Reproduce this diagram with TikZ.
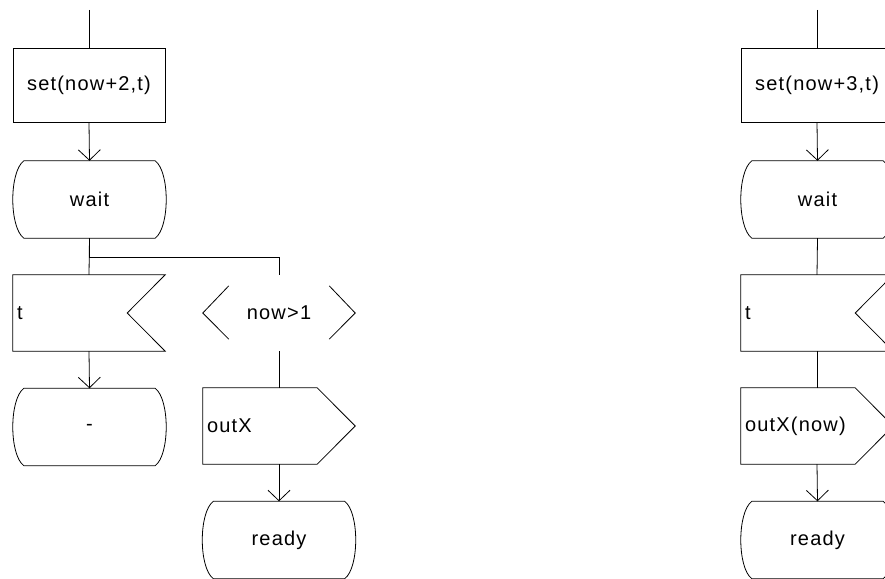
\documentclass[tikz,border=0pt]{standalone}
\usepackage{fontspec}
\setmainfont{Liberation Sans}[LetterSpace=6]
\usetikzlibrary{calc,arrows.meta}

% flat top/bottom with convex arcs at both ends (SDL state symbol)
\newcommand{\stateoutline}[1]{%
  \draw[outline]
    ($(#1.north west)+(11,0)$) -- ($(#1.north east)+(-11,0)$)
    .. controls ($(#1.north east)+(3.7,11)$) and ($(#1.south east)+(3.7,-11)$) ..
    ($(#1.south east)+(-11,0)$) -- ($(#1.south west)+(11,0)$)
    .. controls ($(#1.south west)+(-3.7,-11)$) and ($(#1.north west)+(-3.7,11)$) ..
    cycle;}
% rectangle with a notch cut into its right side (input symbol)
\newcommand{\inputoutline}[1]{%
  \draw[outline]
    (#1.north west) -- (#1.north east) -- ($(#1.east)+(-38,0)$)
    -- (#1.south east) -- (#1.south west) -- cycle;}
% rectangle with a pointed right side (output symbol)
\newcommand{\outputoutline}[1]{%
  \draw[outline]
    (#1.north west) -- ($(#1.north east)+(-38,0)$) -- (#1.east)
    -- ($(#1.south east)+(-38,0)$) -- (#1.south west) -- cycle;}
% two angle brackets (enabling condition)
\newcommand{\condoutline}[1]{%
  \draw[outline] ($(#1.north west)+(26,11)$) -- (#1.west) -- ($(#1.south west)+(26,-12)$);
  \draw[outline] ($(#1.north east)+(-26,11)$) -- (#1.east) -- ($(#1.south east)+(-26,-12)$);}

\tikzset{
  x=1pt, y=-1pt,
  outline/.style={draw=black, line width=0.8pt},
  wire/.style={draw=black, line width=0.8pt},
  flow/.style={wire, -{Straight Barb[length=10.5pt, width=22pt, line width=0.8pt]}},
  lbl/.style={font=\fontsize{20}{24}\selectfont, text=black},
  taskbox/.style={lbl, draw=black, line width=0.8pt, minimum width=152pt, minimum height=74pt, inner sep=0pt},
  statebox/.style={lbl, minimum width=153pt, minimum height=77pt, inner sep=0pt},
  leftbox/.style={lbl, minimum width=152pt, minimum height=76pt, inner xsep=4pt, inner ysep=0pt, text width=144pt, align=left},
  condbox/.style={lbl, minimum width=152pt, minimum height=76pt, inner sep=0pt},
}

\begin{document}
\begin{tikzpicture}
\useasboundingbox (0,0) rectangle (885,578);
\clip (0,0) rectangle (885,578);

% ---- left process
\coordinate (in1) at (89,10);
\node[taskbox]  (set1)  at (89,85)    {set(now+2,t)};
\node[statebox] (wait1) at (89.5,199.5) {wait};
\node[leftbox]  (t1)    at (89,313)   {t};
\node[statebox] (dash1) at (89.5,427) {-};
\node[condbox]  (cond)  at (279,313)  {now>1};
\node[leftbox]  (out1)  at (279,426)  {outX};
\node[statebox] (rdy1)  at (279,540)  {ready};

\stateoutline{wait1}
\inputoutline{t1}
\stateoutline{dash1}
\condoutline{cond}
\outputoutline{out1}
\stateoutline{rdy1}

\draw[wire] (in1) -- (set1.north);
\draw[flow] (set1.south) -- (wait1.north);
\draw[wire] (wait1.south) -- (t1.north);
\draw[wire] (wait1.south) -- ++(0,19) -| (cond.north);
\draw[flow] (t1.south) -- (dash1.north);
\draw[wire] (cond.south) -- (out1.north);
\draw[flow] (out1.south) -- (rdy1.north);

% ---- right process
\coordinate (in2) at (817,10);
\node[taskbox]  (set2)  at (817,85)    {set(now+3,t)};
\node[statebox] (wait2) at (817.5,199.5) {wait};
\node[leftbox]  (t2)    at (817,313)   {t};
\node[leftbox]  (out2)  at (817,426)   {outX(now)};
\node[statebox] (rdy2)  at (817.5,540) {ready};

\stateoutline{wait2}
\inputoutline{t2}
\outputoutline{out2}
\stateoutline{rdy2}

\draw[wire] (in2) -- (set2.north);
\draw[flow] (set2.south) -- (wait2.north);
\draw[wire] (wait2.south) -- (t2.north);
\draw[wire] (t2.south) -- (out2.north);
\draw[flow] (out2.south) -- (rdy2.north);
\end{tikzpicture}
\end{document}
